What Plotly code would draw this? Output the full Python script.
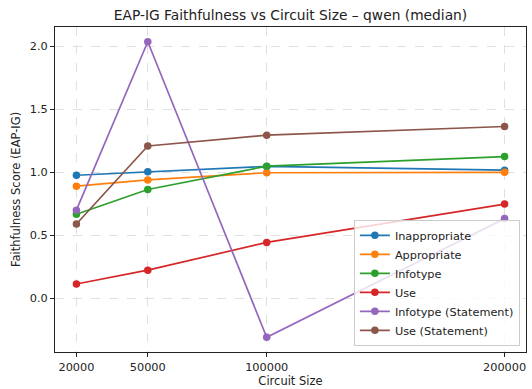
import plotly.graph_objects as go

circuit_sizes = [20000, 50000, 100000, 200000]
inappropriate = [0.975, 1.003, 1.045, 1.015]
appropriate = [0.888, 0.938, 0.995, 0.998]
infotype = [0.666, 0.862, 1.047, 1.123]
use = [0.112, 0.222, 0.442, 0.746]
infotype_statement = [0.698, 2.034, -0.31, 0.631]
use_statement = [0.588, 1.207, 1.293, 1.362]

series = [
    ("Inappropriate", inappropriate, "#1f77b4"),
    ("Appropriate", appropriate, "#ff7f0e"),
    ("Infotype", infotype, "#2ca02c"),
    ("Use", use, "#d62728"),
    ("Infotype (Statement)", infotype_statement, "#9467bd"),
    ("Use (Statement)", use_statement, "#8c564b"),
]

x_ticks = [20000, 50000, 100000, 200000]
x_tick_labels = ["20000", "50000", "100000", "200000"]
y_ticks = [0.0, 0.5, 1.0, 1.5, 2.0]

fig = go.Figure()
for name, vals, color in series:
    fig.add_trace(go.Scatter(
        x=circuit_sizes, y=vals, name=name, mode="lines+markers",
        line=dict(color=color, width=1.7),
        marker=dict(color=color, size=7.5),
    ))

allv = [v for _, vals, _ in series for v in vals]
ymin, ymax = min(allv), max(allv)
pad = (ymax - ymin) * 0.05
xpad = (max(circuit_sizes) - min(circuit_sizes)) * 0.05

font = "DejaVu Sans, sans-serif"
fig.update_layout(
    width=532, height=389,
    margin=dict(l=55, r=5, t=27, b=35),
    paper_bgcolor="white", plot_bgcolor="white",
    font=dict(family=font, size=11, color="#222"),
    title=dict(text="EAP-IG Faithfulness vs Circuit Size – qwen (median)",
               x=0.5, xref="paper", xanchor="center", y=1 - 15/389, yanchor="middle",
               font=dict(size=13.8, color="#222")),
    showlegend=True,
    legend=dict(x=0.987, y=0.019, xanchor="right", yanchor="bottom",
                bgcolor="rgba(255,255,255,0.8)", bordercolor="#cccccc", borderwidth=1,
                font=dict(size=11.3, color="#222"), tracegroupgap=0, itemwidth=30),
)
fig.update_xaxes(
    range=[min(circuit_sizes) - xpad, max(circuit_sizes) + xpad],
    tickmode="array", tickvals=x_ticks, ticktext=x_tick_labels,
    showgrid=True, gridcolor="#e0e0e0", griddash="dash", gridwidth=1,
    showline=True, linecolor="#222", linewidth=1, mirror=True,
    ticks="outside", ticklen=4, tickcolor="#222", zeroline=False,
    tickfont=dict(size=11.3),
    title=dict(text="Circuit Size", font=dict(size=11.5), standoff=2),
)
fig.update_yaxes(
    range=[ymin - pad, ymax + pad],
    tickmode="array", tickvals=y_ticks, tickformat=".1f",
    showgrid=True, gridcolor="#e0e0e0", griddash="dash", gridwidth=1,
    showline=True, linecolor="#222", linewidth=1, mirror=True,
    ticks="outside", ticklen=4, tickcolor="#222", zeroline=False,
    tickfont=dict(size=11.3),
    title=dict(text="Faithfulness Score (EAP-IG)", font=dict(size=11.5), standoff=6),
)

fig.write_html("out.html", config={"displayModeBar": False},
               post_script="document.body.style.margin='0';document.body.style.overflow='hidden';")
